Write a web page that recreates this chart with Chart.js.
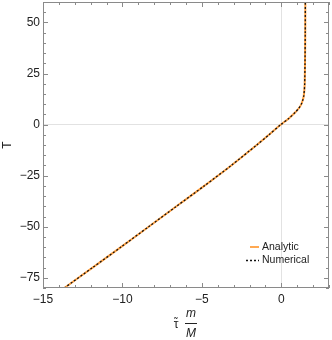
<!DOCTYPE html>
<html>
<head>
<meta charset="utf-8">
<script src="https://cdn.jsdelivr.net/npm/chart.js@4"></script>
<style>
  html, body { margin: 0; padding: 0; background: #fff; }
  #wrap { width: 332px; height: 340px; }
</style>
</head>
<body>
<div id="wrap"><canvas id="chart" width="332" height="340"></canvas></div>
<script>
// curve: tau * m/M (x) against T (y)
const tauValues = [-13.66, -11.88, -10.1, -8.35, -6.6, -4.85, -3.15, -1.55, -0.78, -0.03,
                   0.47, 0.88, 1.1, 1.26, 1.35, 1.41, 1.45, 1.47, 1.49, 1.505, 1.51];
const tValues   = [-80, -70, -60, -50, -40, -30, -20, -10, -5, 0,
                   3, 6, 8, 10, 12, 14, 17, 20, 30, 45, 60];
const numericalTau = tauValues.slice();
const numericalT = tValues.slice();

const xTicks = [-15, -10, -5, 0];
const yTicks = [-75, -50, -25, 0, 25, 50];
const seriesNames = ['Analytic', 'Numerical'];

const FRAME = '#8a8a8a';
const TEXT = '#222';
const ORANGE = '#ffa040';
const FONT = "'Liberation Sans', Arial, sans-serif";

function fmt(v) {
  return v < 0 ? '\u2212' + Math.abs(v) : String(v);
}

function noPad(s) {
  s.paddingTop = 0; s.paddingBottom = 0;
  s.paddingLeft = 0; s.paddingRight = 0;
}

const framePlugin = {
  id: 'frame',
  afterDatasetsDraw(chart) {
    const {ctx, chartArea: a, scales} = chart;
    const xs = scales.x, ys = scales.y;
    ctx.save();
    ctx.strokeStyle = FRAME;
    ctx.lineWidth = 1;
    ctx.strokeRect(a.left + 0.5, a.top + 0.5, a.right - a.left - 1, a.bottom - a.top - 1);
    // x ticks, top and bottom, inward
    for (let v = -15; v <= 3; v += 1) {
      const px = Math.round(xs.getPixelForValue(v)) + 0.5;
      const len = xTicks.includes(v) ? 5 : 3;
      ctx.beginPath();
      ctx.moveTo(px, a.bottom); ctx.lineTo(px, a.bottom - len);
      ctx.moveTo(px, a.top); ctx.lineTo(px, a.top + len);
      ctx.stroke();
    }
    // y ticks, left and right, inward
    for (let v = -80; v <= 60; v += 5) {
      const py = Math.round(ys.getPixelForValue(v)) + 0.5;
      const len = yTicks.includes(v) ? 5 : 3;
      ctx.beginPath();
      ctx.moveTo(a.left, py); ctx.lineTo(a.left + len, py);
      ctx.moveTo(a.right, py); ctx.lineTo(a.right - len, py);
      ctx.stroke();
    }
    // legend inside the plot, bottom right
    const lx = a.right - 85;
    const y1 = a.bottom - 41, y2 = a.bottom - 27.5;
    ctx.lineWidth = 1.8;
    ctx.strokeStyle = ORANGE;
    ctx.beginPath(); ctx.moveTo(lx + 6, y1); ctx.lineTo(lx + 15, y1); ctx.stroke();
    ctx.lineWidth = 1.3;
    ctx.strokeStyle = '#111';
    ctx.setLineDash([2, 2]);
    ctx.beginPath(); ctx.moveTo(lx + 2, y2); ctx.lineTo(lx + 15, y2); ctx.stroke();
    ctx.setLineDash([]);
    ctx.fillStyle = TEXT;
    ctx.font = '10.5px ' + FONT;
    ctx.textAlign = 'left';
    ctx.textBaseline = 'middle';
    ctx.fillText(seriesNames[0], lx + 18, y1);
    ctx.fillText(seriesNames[1], lx + 18, y2);
    // x axis title: tau~ m/M
    const cx = (a.left + a.right) / 2;
    ctx.font = '12px ' + FONT;
    ctx.textAlign = 'center';
    ctx.fillText('\u03C4', cx - 10, a.bottom + 37);
    ctx.font = '10px ' + FONT;
    ctx.fillText('\u02DC', cx - 10, a.bottom + 34);
    ctx.font = 'italic 12px ' + FONT;
    ctx.fillText('m', cx + 5, a.bottom + 26);
    ctx.fillText('M', cx + 5, a.bottom + 46);
    ctx.lineWidth = 1;
    ctx.strokeStyle = TEXT;
    ctx.beginPath(); ctx.moveTo(cx - 1, a.bottom + 35.5); ctx.lineTo(cx + 11, a.bottom + 35.5); ctx.stroke();
    ctx.restore();
  }
};

new Chart(document.getElementById('chart'), {
  type: 'scatter',
  data: {
    datasets: [
      {
        label: seriesNames[0],
        data: tauValues.map((x, i) => ({x: x, y: tValues[i]})),
        showLine: true,
        borderColor: ORANGE,
        borderWidth: 2,
        pointRadius: 0,
        tension: 0.25,
        order: 2
      },
      {
        label: seriesNames[1],
        data: numericalTau.map((x, i) => ({x: x, y: numericalT[i]})),
        showLine: true,
        borderColor: '#111',
        borderWidth: 1.3,
        borderDash: [2, 2],
        pointRadius: 0,
        tension: 0.25,
        order: 1
      }
    ]
  },
  options: {
    responsive: false,
    animation: false,
    layout: {padding: {top: 2, right: 3, left: 0, bottom: 0}},
    plugins: {legend: {display: false}, tooltip: {enabled: false}},
    scales: {
      x: {
        type: 'linear',
        min: -15,
        max: 3,
        afterBuildTicks: s => { s.ticks = xTicks.map(v => ({value: v})); },
        afterFit: s => { s.height = 52; noPad(s); },
        grid: {
          drawTicks: false,
          color: c => (c.tick && c.tick.value === 0) ? '#e2e2e2' : 'rgba(0,0,0,0)'
        },
        border: {display: false},
        ticks: {
          padding: 4,
          color: TEXT,
          font: {family: FONT, size: 12},
          callback: v => fmt(v),
          maxRotation: 0
        }
      },
      y: {
        type: 'linear',
        min: -80,
        max: 60,
        afterBuildTicks: s => { s.ticks = yTicks.map(v => ({value: v})); },
        afterFit: s => { s.width = 43; noPad(s); },
        grid: {
          drawTicks: false,
          color: c => (c.tick && c.tick.value === 0) ? '#e2e2e2' : 'rgba(0,0,0,0)'
        },
        border: {display: false},
        title: {
          display: true,
          text: 'T',
          color: TEXT,
          font: {family: FONT, size: 12},
          padding: 0
        },
        ticks: {
          padding: 3,
          color: TEXT,
          font: {family: FONT, size: 12},
          callback: v => fmt(v)
        }
      }
    }
  },
  plugins: [framePlugin]
});
</script>
</body>
</html>
